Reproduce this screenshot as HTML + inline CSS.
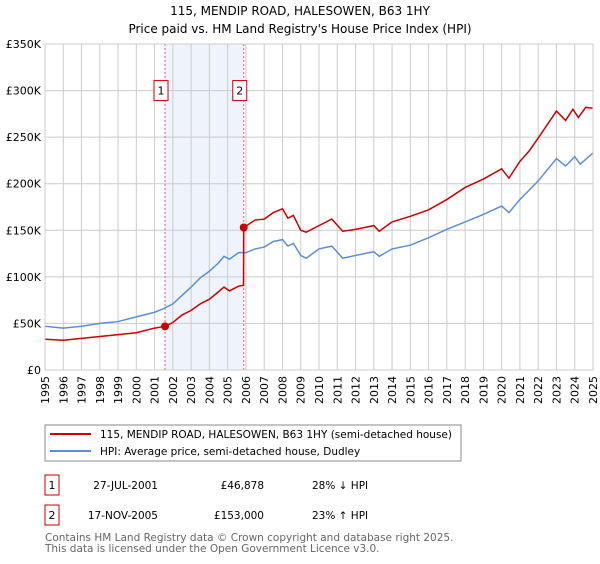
<!DOCTYPE html>
<html><head><meta charset="utf-8"><style>
body{margin:0;background:#fff;font-family:"DejaVu Sans","Liberation Sans",sans-serif;}
svg text{font-family:"DejaVu Sans","Liberation Sans",sans-serif;}
</style></head><body>
<svg id="chart" width="600" height="560" xmlns="http://www.w3.org/2000/svg">
<text x="300" y="15" text-anchor="middle" font-size="12">115, MENDIP ROAD, HALESOWEN, B63 1HY</text>
<text x="300" y="33" text-anchor="middle" font-size="12">Price paid vs. HM Land Registry's House Price Index (HPI)</text>
<g id="plot"></g>
<rect x="45" y="425" width="416" height="36" fill="#fff" stroke="#888"/>
<line x1="50" y1="434" x2="91" y2="434" stroke="#cc0000" stroke-width="2"/>
<text x="100" y="438" font-size="10.5">115, MENDIP ROAD, HALESOWEN, B63 1HY (semi-detached house)</text>
<line x1="50" y1="451" x2="91" y2="451" stroke="#5b8fd4" stroke-width="2"/>
<text x="100" y="455" font-size="10.5">HPI: Average price, semi-detached house, Dudley</text>
<rect x="45" y="475" width="14" height="20" fill="#fff" stroke="#cc0000"/>
<text x="52" y="489" font-size="11" text-anchor="middle">1</text>
<text x="158" y="489" font-size="10.5" text-anchor="end">27-JUL-2001</text>
<text x="264" y="489" font-size="10.5" text-anchor="end">£46,878</text>
<text x="312" y="489" font-size="10.5">28% ↓ HPI</text>
<rect x="45" y="505" width="14" height="20" fill="#fff" stroke="#cc0000"/>
<text x="52" y="519" font-size="11" text-anchor="middle">2</text>
<text x="158" y="519" font-size="10.5" text-anchor="end">17-NOV-2005</text>
<text x="264" y="519" font-size="10.5" text-anchor="end">£153,000</text>
<text x="312" y="519" font-size="10.5">23% ↑ HPI</text>
<text x="45" y="541" font-size="10.5" fill="#666">Contains HM Land Registry data © Crown copyright and database right 2025.</text>
<text x="45" y="552" font-size="10.5" fill="#666">This data is licensed under the Open Government Licence v3.0.</text>
</svg>
<script>
const yTicks=[0,50000,100000,150000,200000,250000,300000,350000];
const yTickLabels=["£0","£50K","£100K","£150K","£200K","£250K","£300K","£350K"];
const xYears=[1995,1996,1997,1998,1999,2000,2001,2002,2003,2004,2005,2006,2007,2008,2009,2010,2011,2012,2013,2014,2015,2016,2017,2018,2019,2020,2021,2022,2023,2024,2025];
const hpiDates=[1995,1996,1997,1998,1999,2000,2001,2001.5,2002,2002.5,2003,2003.5,2004,2004.5,2004.8,2005.1,2005.6,2006,2006.5,2007,2007.5,2008,2008.3,2008.6,2009,2009.3,2010,2010.7,2011.3,2012,2013,2013.3,2014,2015,2016,2017,2018,2019,2020,2020.4,2021,2022,2023,2023.5,2024,2024.3,2025];
const hpiValues=[47,45,47,50,52,57,62,66,71,80,89,99,106,115,122,119,126,126,130,132,138,140,133,136,123,120,130,133,120,123,127,122,130,134,142,151,159,167,176,169,183,203,227,219,229,221,233];
const priceDates=[1995,1996,1997,1998,1999,2000,2001,2001.57,2002,2002.5,2003,2003.5,2004,2004.5,2004.8,2005.1,2005.6,2005.87,2005.88,2006.5,2007,2007.5,2008,2008.3,2008.6,2009,2009.3,2010,2010.7,2011.3,2012,2013,2013.3,2014,2015,2016,2017,2018,2019,2020,2020.4,2021,2021.5,2022,2023,2023.5,2023.9,2024.2,2024.6,2025];
const priceValues=[33,32,34,36,38,40,45,46.878,51,59,64,71,76,84,89,85,90,91,153,161,162,169,173,163,166,150,148,155,162,149,151,155,149,159,165,172,183,196,205,216,206,224,235,249,278,268,280,271,282,281];
const saleDates=[2001.57,2005.88];
const saleValues=[46.878,153];
const saleLabels=["1","2"];
const X0=45,X1=593,Y0=370,Y1=44;
const xs=d=>X0+(d-1995)/30*(X1-X0);
const ys=v=>Y0-v/350000*(Y0-Y1);
const NS="http://www.w3.org/2000/svg";
const g=document.getElementById('plot');
function mk(t,a){const e=document.createElementNS(NS,t);for(const k in a)e.setAttribute(k,a[k]);g.appendChild(e);return e;}
let sh=mk('rect',{x:xs(saleDates[0]),y:Y1,width:xs(saleDates[1])-xs(saleDates[0]),height:Y0-Y1,fill:'#eef3fc'});


xYears.forEach(yr=>{
 const l=mk('line',{x1:xs(yr),x2:xs(yr),y1:Y1,y2:Y0,stroke:'#ccc'});
 
 
 const t=mk('text',{x:0,y:0,'font-size':11,'text-anchor':'end',transform:`translate(${xs(yr)+4},${Y0+6}) rotate(-90)`});
 t.textContent=yr;
 
 
});
yTicks.forEach((v,i)=>{
 const l=mk('line',{x1:X0,x2:X1,y1:ys(v),y2:ys(v),stroke:'#ccc'});
 
 
 const t=mk('text',{x:X0-4,y:ys(v)+4,'font-size':11,'text-anchor':'end'});
 t.textContent=yTickLabels[i];
 
 
});
saleDates.forEach((d,i)=>{
 const l=mk('line',{x1:xs(d),x2:xs(d),y1:Y1,y2:Y0,stroke:'#e06060','stroke-dasharray':'2,2'});
 
 
 const b=mk('rect',{x:xs(d)-11,y:ys(300000)-10,width:14,height:20,fill:'#fff',stroke:'#cc0000'});
 
 
 const t=mk('text',{x:xs(d)-4,y:ys(300000)+4,'font-size':11,'text-anchor':'middle'});
 t.textContent=saleLabels[i];
 
 
});
let hp=mk('polyline',{points:hpiDates.map((d,i)=>xs(d)+','+ys(hpiValues[i]*1000)).join(' '),fill:'none',stroke:'#5b8fd4','stroke-width':1.5});


let pp=mk('polyline',{points:priceDates.map((d,i)=>xs(d)+','+ys(priceValues[i]*1000)).join(' '),fill:'none',stroke:'#cc0000','stroke-width':1.5});


saleDates.forEach((d,i)=>{
 const c=mk('circle',{cx:xs(d),cy:ys(saleValues[i]*1000),r:4,fill:'#cc0000'});
 
 
});
let bd=mk('rect',{x:X0,y:Y1,width:X1-X0,height:Y0-Y1,fill:'none',stroke:'#ccc'});


</script>
</body></html>
